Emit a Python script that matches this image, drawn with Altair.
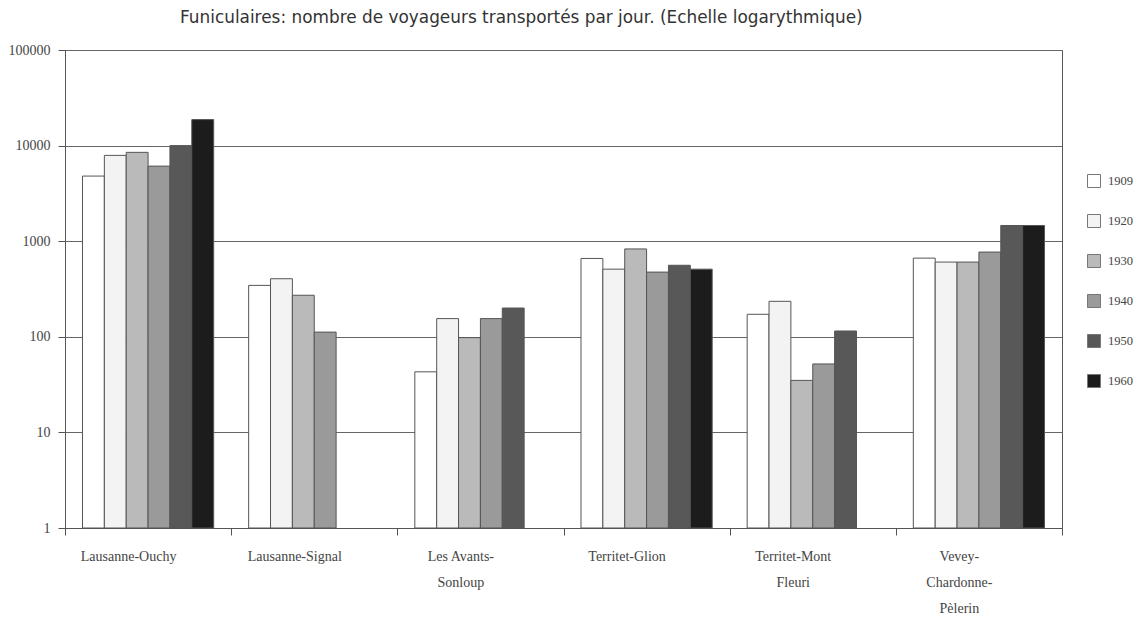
import altair as alt
import pandas as pd

categories = [
    "Lausanne-Ouchy",
    "Lausanne-Signal",
    "Les Avants-\nSonloup",
    "Territet-Glion",
    "Territet-Mont\nFleuri",
    "Vevey-\nChardonne-\nPèlerin",
]
years = ["1909", "1920", "1930", "1940", "1950", "1960"]

v1909 = [4800, 345, 43, 660, 172, 665]
v1920 = [7900, 405, 155, 510, 235, 605]
v1930 = [8500, 272, 98, 830, 35, 605]
v1940 = [6100, 112, 155, 475, 52, 770]
v1950 = [10000, None, 200, 560, 115, 1460]
v1960 = [18700, None, None, 510, None, 1460]

colors = ["#ffffff", "#f3f3f3", "#bababa", "#9a9a9a", "#585858", "#1c1c1c"]

series = [v1909, v1920, v1930, v1940, v1950, v1960]
rows = []
for y, vals in zip(years, series):
    for c, v in zip(categories, vals):
        if v is not None:
            rows.append({"ligne": c, "annee": y, "voyageurs": v})
df = pd.DataFrame(rows)

serif = "Liberation Serif"

chart = (
    alt.Chart(df)
    .mark_bar(stroke="#555555", strokeWidth=1)
    .encode(
        x=alt.X(
            "ligne:N",
            sort=categories,
            scale=alt.Scale(paddingInner=0, paddingOuter=0),
            axis=alt.Axis(
                title=None,
                labelAngle=0,
                tickBand="extent",
                tickSize=7,
                tickColor="#555555",
                domainColor="#555555",
                labelFont=serif,
                labelFontSize=14,
                labelColor="#444444",
                labelPadding=14,
                labelLineHeight=26,
                labelOffset=-20,
                labelExpr="split(datum.label, '\\n')",
            ),
        ),
        xOffset=alt.XOffset(
            "annee:N",
            sort=years,
            scale=alt.Scale(paddingInner=0, paddingOuter=0.8),
        ),
        y=alt.Y(
            "voyageurs:Q",
            stack=None,
            scale=alt.Scale(type="log", domain=[1, 100000]),
            axis=alt.Axis(
                title=None,
                values=[1, 10, 100, 1000, 10000, 100000],
                labelExpr="datum.value",
                grid=True,
                gridColor="#666666",
                gridWidth=1,
                tickSize=7,
                tickColor="#555555",
                domainColor="#555555",
                labelFont=serif,
                labelFontSize=14,
                labelColor="#444444",
                labelPadding=8,
            ),
        ),
        color=alt.Color(
            "annee:N",
            sort=years,
            scale=alt.Scale(domain=years, range=colors),
            legend=alt.Legend(
                title=None,
                orient="none",
                legendX=1022,
                legendY=124,
                padding=0,
                symbolType="square",
                symbolSize=169,
                symbolStrokeColor="#777777",
                symbolStrokeWidth=1,
                symbolOpacity=1,
                labelFont=serif,
                labelFontSize=12.5,
                labelColor="#444444",
                labelOffset=7,
                rowPadding=22,
            ),
        ),
    )
    .properties(
        width=997,
        height=478,
        padding={"left": 57, "top": 42, "right": 71, "bottom": 90},
        autosize=alt.AutoSizeParams(type="none"),
        title=alt.TitleParams(
            text="Funiculaires: nombre de voyageurs transportés par jour. (Echelle logarythmique)",
            font="DejaVu Sans",
            fontSize=16.9,
            fontWeight="normal",
            color="#333333",
            anchor="start",
            frame="group",
            dx=115,
            offset=16,
        ),
    )
    .configure_view(stroke="#555555", strokeWidth=1)
)

chart.save("out.html", embed_options={"renderer": "svg", "actions": False})
